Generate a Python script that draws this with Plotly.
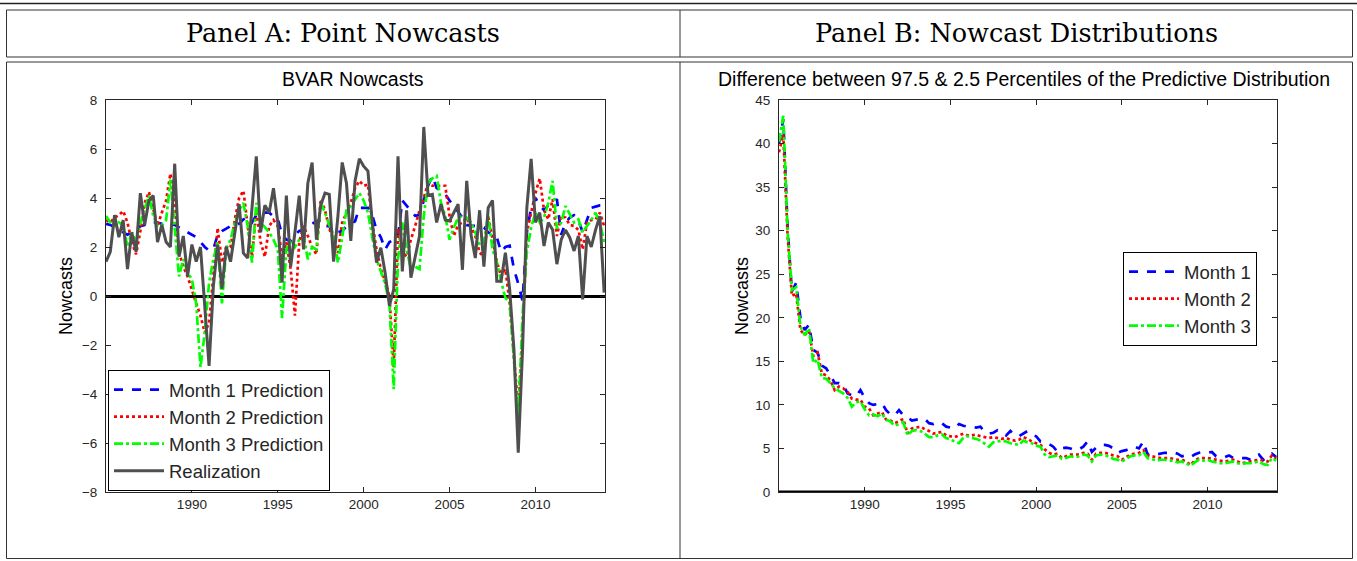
import plotly.graph_objects as go

W, H = 1357, 561

# ---------------- data ----------------
quarters = [1985 + q / 4 for q in range(117)]
year_ticks = [1990, 1995, 2000, 2005, 2010]
year_labels = ["1990", "1995", "2000", "2005", "2010"]

realization = [
    1.4, 1.8, 3.3, 2.4, 3.1, 1.1, 2.6, 1.8, 4.2, 2.9,
    3.9, 4.1, 2.2, 2.9, 2.2, 2.0, 5.4, 1.6, 2.45, 0.8,
    2.1, 1.4, 2.0, -0.6, -2.85, 0.4, 2.1, 0.3, 2.0, 1.4,
    2.5, 3.75, 1.75, 1.55, 3.6, 5.7, 2.6, 3.7, 3.4, 4.4,
    3.0, 0.55, 4.1, 1.2, 2.6, 4.1, 1.9, 4.6, 5.45, 2.3,
    3.7, 4.2, 4.15, 1.4, 3.25, 5.45, 4.6, 2.25, 4.7, 5.6,
    5.3, 5.1, 3.0, 1.36, 1.97, 0.95, -0.4, 0.27, 5.7, 1.0,
    3.5, 0.75, 1.6, 2.45, 6.9, 4.1, 4.15, 3.0, 3.75, 3.1,
    3.06, 3.4, 3.75, 1.07, 4.7, 2.5, 1.55, 3.5, 1.2, 3.6,
    3.9, 0.6, 0.6, 1.77, 0.27, -2.2, -6.4, -2.2, 3.6, 5.6,
    3.0, 3.4, 2.04, 3.0, 2.7, 1.3, 2.3, 2.7, 2.38, 1.84,
    2.45, -0.14, 2.45, 2.0, 2.7, 3.26, 0.14,
]

month1_pred = [
    2.95, 2.9, 2.8, 2.7, 2.6, 2.5, 2.6, 2.7, 2.85, 2.9,
    3.0, 3.0, 3.0, 2.95, 2.95, 2.9, 2.9, 2.8, 2.7, 2.6,
    2.5, 2.4, 2.2, 2.0, 1.85, 1.9, 2.5, 2.65, 2.75, 2.85,
    2.85, 2.95, 3.13, 3.2, 3.0, 3.3, 3.45, 3.4, 3.4, 3.25,
    3.15, 2.5, 2.3, 2.25, 2.5, 2.65, 2.7, 2.85, 2.95, 3.05,
    3.1, 2.85, 2.85, 2.5, 2.6, 2.65, 2.85, 2.95, 3.05, 3.6,
    3.6, 3.6, 3.3, 2.7, 2.4, 1.9, 2.2, 2.3, 2.4, 3.9,
    3.7, 3.5, 3.27, 3.3, 3.9, 4.5, 4.9, 4.4, 4.3, 4.15,
    3.9, 3.67, 3.4, 3.2, 2.9, 2.86, 2.86, 2.86, 2.8, 2.6,
    2.5, 2.4, 1.8, 2.0, 2.05, 1.1, 0.5, -0.2, 2.6, 3.6,
    4.0, 3.7, 3.5, 3.7, 3.8, 3.95, 2.5, 3.0, 3.2, 3.3,
    3.1, 2.6, 3.1, 3.6, 3.65, 3.7, 3.7,
]

month2_pred = [
    3.1, 3.0, 3.2, 3.3, 3.47, 3.0, 2.2, 1.7, 2.65, 3.8,
    4.25, 3.5, 2.86, 3.4, 3.9, 5.0, 3.8, 1.77, 1.2, 0.8,
    0.2, -0.3, -0.8, -1.5, -1.1, 0.8, 2.78, 1.36, 2.0, 2.0,
    3.13, 4.0, 4.3, 2.86, 1.6, 3.5, 2.2, 1.6, 2.86, 3.1,
    2.86, 1.6, 2.2, 1.1, -0.8, 2.2, 2.86, 2.45, 2.0, 1.7,
    3.95, 3.5, 2.75, 2.3, 1.77, 2.99, 3.4, 3.8, 4.4, 4.7,
    4.5, 4.55, 2.99, 1.9, 1.1, 0.6, 0.0, -2.9, 2.75, 1.8,
    1.6, 2.3, 2.86, 3.5, 4.0, 4.6, 4.5, 4.5, 4.5, 4.5,
    3.27, 2.45, 2.9, 3.0, 3.2, 2.8, 2.45, 1.77, 1.6, 3.27,
    2.3, 1.43, 0.8, 1.1, -0.3, -2.45, -4.6, -1.5, 2.6, 3.4,
    4.2, 4.8, 3.5, 3.13, 3.95, 2.45, 3.27, 3.2, 2.9, 2.86,
    2.7, 1.9, 3.0, 3.1, 3.13, 3.4, 2.86,
]

month3_pred = [
    3.27, 3.0, 2.86, 3.0, 2.9, 2.0, 2.6, 2.2, 3.0, 3.6,
    4.1, 3.27, 2.86, 2.9, 3.1, 4.75, 2.86, 0.8, 1.5, 0.95,
    0.68, -0.3, -2.9, -1.5, 0.54, 1.5, 2.2, -0.3, 1.9, 2.3,
    3.0, 3.5, 3.8, 2.86, 1.36, 3.8, 3.0, 2.8, 2.6, 2.3,
    1.9, -0.9, 1.9, 2.3, 2.0, 2.3, 2.45, 1.5, 2.0, 1.9,
    3.8, 3.4, 2.9, 2.5, 1.36, 2.4, 3.5, 3.67, 3.95, 4.2,
    3.9, 3.4, 2.4, 1.5, 1.0, 0.5, -0.3, -3.8, 1.5, 3.0,
    1.9, 1.1, 1.2, 1.1, 3.27, 4.6, 4.8, 4.9, 3.8, 3.27,
    2.3, 2.8, 3.2, 3.27, 3.2, 3.0, 2.6, 2.04, 2.2, 3.27,
    1.9, 1.4, 0.6, -0.07, -0.27, -2.85, -5.0, -0.8, 1.8, 2.8,
    3.4, 3.0, 3.2, 3.8, 4.7, 2.75, 2.99, 3.67, 3.3, 3.0,
    3.13, 2.6, 2.86, 3.1, 3.4, 3.0, 2.2,
]

width_month1 = [
    40.0, 42.8, 30.5, 23.0, 24.0, 20.0, 18.6, 19.2, 16.3, 16.0,
    14.5, 14.2, 13.4, 12.5, 12.5, 12.3, 11.3, 11.1, 11.0, 11.7,
    10.8, 10.2, 10.0, 10.1, 10.2, 9.4, 8.9, 8.8, 9.4, 8.8,
    8.6, 8.2, 8.3, 8.4, 8.4, 7.9, 7.8, 8.0, 7.9, 7.5,
    7.4, 7.3, 7.8, 7.6, 7.5, 7.5, 7.4, 7.5, 6.9, 6.7,
    6.8, 7.1, 6.9, 6.5, 7.0, 6.5, 6.4, 6.7, 7.0, 6.6,
    6.4, 5.8, 5.7, 5.5, 5.2, 4.6, 5.0, 5.1, 5.0, 4.8,
    4.9, 5.2, 5.8, 4.6, 5.1, 5.4, 5.4, 5.3, 5.0, 4.5,
    4.7, 4.8, 5.0, 5.2, 5.0, 5.8, 4.3, 4.4, 4.3, 4.4,
    4.5, 4.5, 4.6, 4.4, 4.1, 4.2, 4.0, 4.3, 4.5, 4.6,
    4.5, 4.6, 4.1, 4.1, 4.0, 4.2, 3.9, 3.9, 3.9, 3.9,
    3.7, 3.9, 4.3, 3.7, 4.1, 4.4, 4.0,
]

width_month2 = [
    39.0, 41.0, 29.5, 22.5, 22.8, 18.6, 18.0, 18.5, 15.6, 16.0,
    13.6, 13.4, 12.8, 11.7, 12.1, 11.9, 11.5, 10.7, 10.6, 10.6,
    9.8, 9.6, 8.8, 9.0, 9.2, 8.3, 8.2, 7.9, 8.1, 8.4,
    6.7, 7.3, 7.4, 7.5, 7.2, 7.0, 6.7, 6.8, 6.9, 6.5,
    6.4, 6.3, 6.5, 6.7, 6.5, 6.5, 6.6, 6.4, 6.3, 6.2,
    6.3, 6.2, 6.1, 6.2, 6.0, 5.9, 6.0, 6.3, 6.1, 5.8,
    5.6, 5.4, 4.9, 4.5, 4.3, 4.4, 3.9, 4.1, 4.3, 4.3,
    4.3, 4.5, 4.4, 3.7, 4.4, 4.5, 4.5, 4.4, 4.2, 4.1,
    3.7, 4.0, 4.3, 4.4, 4.5, 4.8, 4.2, 4.1, 4.0, 3.9,
    3.9, 3.9, 3.8, 3.7, 3.7, 3.5, 3.1, 3.6, 3.9, 3.9,
    3.9, 3.8, 3.7, 3.6, 3.5, 3.6, 3.7, 3.5, 3.3, 3.4,
    3.5, 3.6, 3.7, 3.6, 3.5, 4.2, 3.8,
]

width_month3 = [
    40.2, 43.2, 30.0, 23.2, 23.5, 19.0, 18.0, 18.8, 14.8, 15.2,
    13.1, 13.0, 12.5, 11.9, 11.6, 11.3, 10.8, 9.8, 10.3, 10.4,
    9.5, 8.8, 8.9, 8.7, 9.0, 8.3, 8.1, 7.6, 7.8, 8.0,
    6.5, 7.0, 7.1, 7.0, 6.7, 6.3, 6.3, 6.5, 6.6, 6.2,
    6.0, 5.8, 5.6, 6.2, 6.4, 6.2, 6.1, 5.9, 5.5, 5.2,
    5.7, 5.8, 5.9, 5.8, 5.6, 5.5, 5.4, 5.9, 5.7, 5.6,
    5.3, 5.2, 4.3, 4.0, 4.1, 4.2, 3.8, 3.9, 4.1, 4.0,
    4.1, 4.3, 4.2, 3.5, 4.2, 4.3, 4.2, 4.1, 3.8, 3.7,
    3.5, 3.8, 4.1, 4.2, 4.2, 4.6, 3.9, 3.8, 3.6, 3.7,
    3.7, 3.6, 3.6, 3.4, 3.5, 3.3, 3.0, 3.4, 3.7, 3.6,
    3.7, 3.5, 3.4, 3.3, 3.3, 3.4, 3.5, 3.3, 3.2, 3.3,
    3.3, 3.4, 3.5, 3.2, 3.1, 3.9, 3.6,
]

left_names = ["Month 1 Prediction", "Month 2 Prediction", "Month 3 Prediction", "Realization"]
right_names = ["Month 1", "Month 2", "Month 3"]

# ---------------- styles ----------------
SANS = "Liberation Sans, Arial, sans-serif"
SERIF = "DejaVu Serif, serif"
BLUE, RED, GREEN, GREY = "#0000ff", "#ff0000", "#00ff00", "#4f4f4f"
LW = 2.7


def fx(px):
    return px / W


def fy(py):
    return 1 - py / H


fig = go.Figure()

left_series = [month1_pred, month2_pred, month3_pred, realization]
left_styles = [(BLUE, "dash"), (RED, "dot"), (GREEN, "dashdot"), (GREY, "solid")]
for name, vals, (col, dash) in zip(left_names, left_series, left_styles):
    fig.add_trace(go.Scatter(
        x=quarters, y=vals, mode="lines", name=name,
        line=dict(color=col, dash=dash, width=LW if col != GREY else 3),
        xaxis="x", yaxis="y", legend="legend",
    ))

right_series = [width_month1, width_month2, width_month3]
right_styles = [(BLUE, "dash"), (RED, "dot"), (GREEN, "dashdot")]
for name, vals, (col, dash) in zip(right_names, right_series, right_styles):
    fig.add_trace(go.Scatter(
        x=quarters, y=vals, mode="lines", name=name,
        line=dict(color=col, dash=dash, width=LW),
        xaxis="x2", yaxis="y2", legend="legend2",
    ))

tickfont = dict(family=SANS, size=13.5, color="#262626")
xcommon = dict(
    range=[1985.0, 2014.05], tickmode="array", tickvals=year_ticks, ticktext=year_labels,
    ticks="inside", ticklen=5, tickcolor="#262626", showline=True, linecolor="#262626",
    linewidth=1, mirror="ticks", showgrid=False, zeroline=False, tickfont=tickfont,
    automargin=False,
)
ycommon = dict(
    ticks="inside", ticklen=5, tickcolor="#262626", showline=True, linecolor="#262626",
    linewidth=1, mirror="ticks", showgrid=False, tickfont=tickfont, ticklabelstandoff=5,
    automargin=False,
)

ydom = [fy(492), fy(100)]
legfont = dict(family=SANS, size=18.5, color="#262626")
fig.update_layout(
    width=W, height=H, autosize=False,
    margin=dict(l=0, r=0, t=0, b=0, pad=0, autoexpand=False),
    paper_bgcolor="white", plot_bgcolor="white",
    xaxis=dict(domain=[fx(106), fx(605)], anchor="y", **xcommon),
    yaxis=dict(domain=ydom, anchor="x", range=[-8, 8], tickmode="linear", tick0=-8, dtick=2,
               zeroline=True, zerolinecolor="black", zerolinewidth=3, layer="above traces",
               **ycommon),
    xaxis2=dict(domain=[fx(779), fx(1277)], anchor="y2", **xcommon),
    yaxis2=dict(domain=ydom, anchor="x2", range=[0, 45], tickmode="linear", tick0=0, dtick=5,
                zeroline=False, **ycommon),
    legend=dict(x=fx(108), y=fy(491), xanchor="left", yanchor="bottom", bgcolor="white",
                bordercolor="black", borderwidth=1, font=legfont, itemwidth=50),
    legend2=dict(x=fx(1123), y=fy(252), xanchor="left", yanchor="top", bgcolor="white",
                 bordercolor="black", borderwidth=1, font=legfont, itemwidth=50),
    showlegend=True,
)

# zero reference line on right panel (bottom)
fig.add_shape(type="line", xref="x2 domain", yref="y2", x0=0, x1=1, y0=0, y1=0,
              line=dict(color="black", width=3))

# table frame
frame = dict(color="#333333", width=1)
fig.add_shape(type="line", xref="paper", yref="paper", x0=0, x1=1, y0=fy(3.5), y1=fy(3.5),
              line=dict(color="#222222", width=1.5))
fig.add_shape(type="rect", xref="paper", yref="paper", x0=fx(6.5), x1=fx(1352.5),
              y0=fy(57), y1=fy(10), line=frame)
fig.add_shape(type="rect", xref="paper", yref="paper", x0=fx(6.5), x1=fx(1352.5),
              y0=fy(558.5), y1=fy(62), line=frame)
fig.add_shape(type="line", xref="paper", yref="paper", x0=fx(680), x1=fx(680),
              y0=fy(57), y1=fy(10), line=frame)
fig.add_shape(type="line", xref="paper", yref="paper", x0=fx(680), x1=fx(680),
              y0=fy(558.5), y1=fy(62), line=frame)


def ann(text, x, y, size, family, angle=0, color="black"):
    fig.add_annotation(text=text, x=fx(x), y=fy(y), xref="paper", yref="paper",
                       showarrow=False, textangle=angle, xanchor="center", yanchor="middle",
                       font=dict(family=family, size=size, color=color))


ann("Panel A: Point Nowcasts", 343, 33, 25.5, SERIF)
ann("Panel B: Nowcast Distributions", 1017, 33, 25.5, SERIF)
ann("BVAR Nowcasts", 353, 79, 19.5, SANS)
ann("Difference between 97.5 &amp; 2.5 Percentiles of the Predictive Distribution", 1024, 79, 19.5, SANS)
ann("Nowcasts", 66, 296, 18, SANS, angle=-90)
ann("Nowcasts", 742, 296, 18, SANS, angle=-90)

fig.write_html(
    "out.html",
    config={"displayModeBar": False},
    post_script=(
        "document.documentElement.style.margin='0';"
        "document.documentElement.style.overflow='hidden';"
        "document.body.style.margin='0';"
        "document.body.style.overflow='hidden';"
        "var gd=document.getElementsByClassName('plotly-graph-div')[0];"
        "gd.style.position='fixed';gd.style.top='0px';gd.style.left='0px';"
    ),
)
